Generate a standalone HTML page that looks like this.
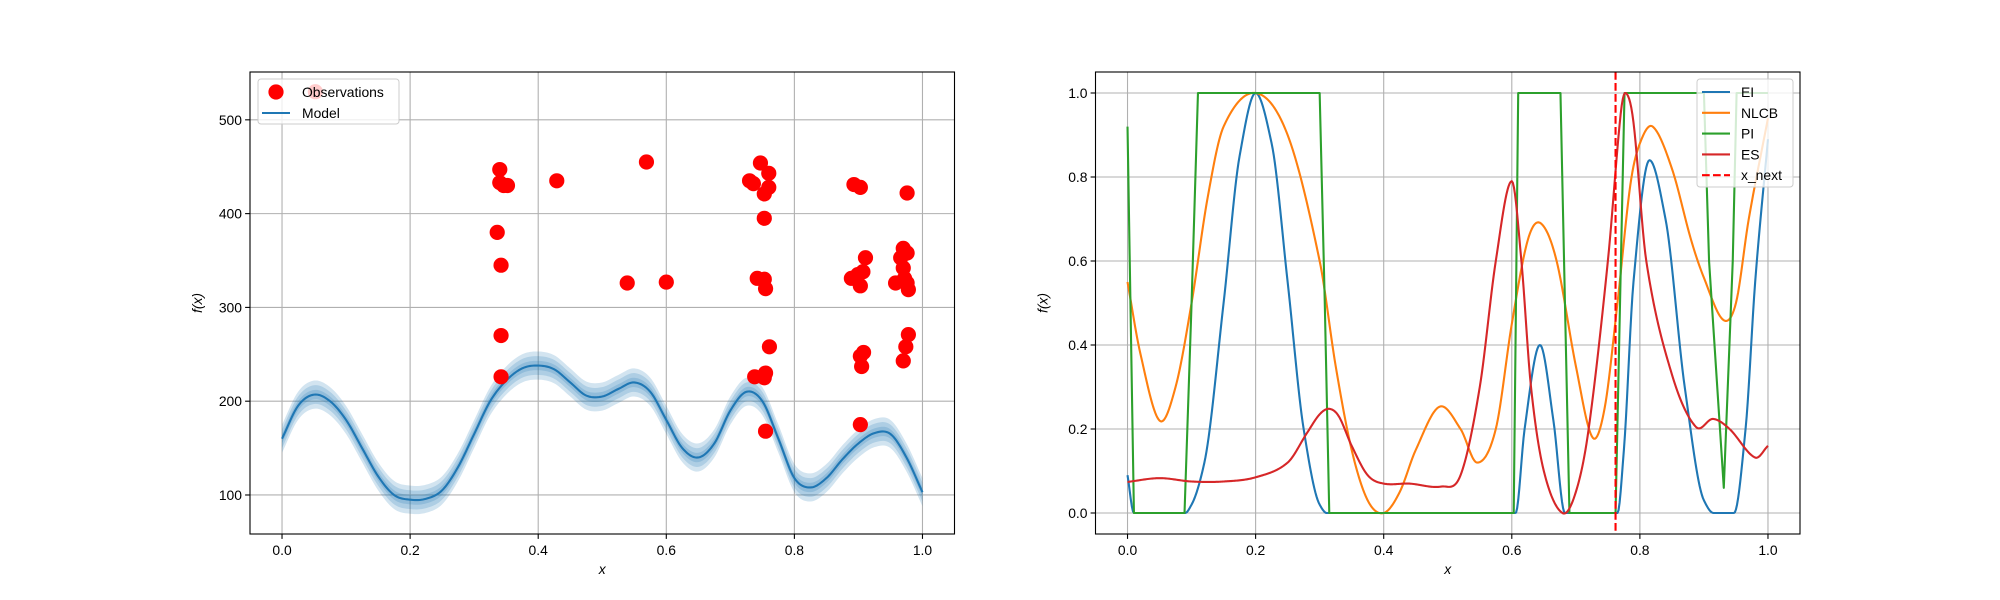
<!DOCTYPE html>
<html><head><meta charset="utf-8"><style>
body{margin:0;background:#fff}
svg{display:block;font-family:"Liberation Sans","DejaVu Sans",sans-serif}
</style></head><body>
<svg id="fig" width="2000" height="600" viewBox="0 0 2000 600" xmlns="http://www.w3.org/2000/svg">
<rect width="2000" height="600" fill="#fff"/>
<g id="left"></g>
<g id="right"></g>
</svg>
<script>
// ---- Left panel data ----
const meanX = [0,0.025,0.05,0.075,0.1,0.125,0.15,0.175,0.2,0.225,0.25,0.275,0.3,0.325,0.35,0.375,0.4,0.425,0.45,0.475,0.5,0.525,0.55,0.575,0.6,0.625,0.65,0.675,0.7,0.725,0.75,0.775,0.8,0.825,0.85,0.875,0.9,0.925,0.95,0.975,1.0];
const meanY = [160,195,207,200,180,150,120,100,95,96,105,130,165,200,222,235,238,234,220,206,205,213,220,210,180,150,140,155,190,210,200,160,118,108,118,138,155,166,165,140,103];
const bandHalfWidths = [15,10,5];
const obsX = [0.052,0.34,0.34,0.346,0.352,0.336,0.342,0.342,0.342,0.429,0.569,0.539,0.600,0.73,0.736,0.747,0.76,0.76,0.753,0.753,0.742,0.753,0.755,0.761,0.755,0.753,0.738,0.755,0.893,0.903,0.976,0.889,0.899,0.907,0.911,0.903,0.903,0.908,0.905,0.903,0.97,0.976,0.966,0.97,0.972,0.976,0.958,0.978,0.978,0.974,0.97];
const obsY = [530,447,433,430,430,380,345,270,226,435,455,326,327,435,432,454,443,428,421,395,331,330,320,258,230,225,226,168,431,428,422,331,335,338,353,323,248,252,237,175,363,358,353,342,331,326,326,319,271,258,243];
const leftXTicks = [0,0.2,0.4,0.6,0.8,1.0];
const leftXTickLabels = ["0.0","0.2","0.4","0.6","0.8","1.0"];
const leftYTicks = [100,200,300,400,500];
const leftYTickLabels = ["100","200","300","400","500"];

// ---- Right panel data ----
const eiX = [0,0.01,0.09,0.1,0.12,0.15,0.175,0.2,0.225,0.25,0.275,0.3,0.311,0.606,0.62,0.644,0.665,0.683,0.765,0.775,0.79,0.815,0.84,0.87,0.9,0.915,0.947,0.965,0.98,1.0];
const eiY = [0.09,0.0,0.0,0.02,0.12,0.5,0.85,1.0,0.88,0.55,0.2,0.02,0.0,0.0,0.2,0.40,0.22,0.0,0.0,0.15,0.55,0.84,0.7,0.3,0.03,0.0,0.0,0.2,0.55,0.89];
const nlcbX = [0,0.02,0.05,0.075,0.1,0.125,0.15,0.2,0.25,0.3,0.325,0.35,0.375,0.4,0.425,0.45,0.487,0.52,0.546,0.575,0.6,0.625,0.645,0.67,0.7,0.726,0.745,0.765,0.785,0.8,0.82,0.85,0.88,0.9,0.93,0.95,0.97,1.0];
const nlcbY = [0.55,0.38,0.22,0.3,0.5,0.75,0.92,1.0,0.9,0.6,0.35,0.15,0.03,0.0,0.05,0.15,0.253,0.2,0.12,0.2,0.45,0.65,0.69,0.6,0.35,0.18,0.25,0.5,0.78,0.88,0.92,0.82,0.65,0.56,0.46,0.5,0.7,0.94];
const piX = [0,0.01,0.089,0.1,0.11,0.3,0.308,0.315,0.603,0.61,0.676,0.683,0.69,0.762,0.769,0.776,0.9,0.908,0.931,0.945,0.951,1.0];
const piY = [0.92,0.0,0.0,0.5,1.0,1.0,0.5,0.0,0.0,1.0,1.0,0.5,0.0,0.0,0.5,1.0,1.0,0.6,0.06,0.6,1.0,1.0];
const esX = [0,0.05,0.1,0.15,0.2,0.25,0.28,0.3,0.315,0.33,0.35,0.375,0.4,0.44,0.49,0.52,0.55,0.575,0.6,0.615,0.63,0.65,0.679,0.7,0.72,0.75,0.77,0.778,0.79,0.81,0.85,0.8875,0.914,0.94,0.98,1.0];
const esY = [0.074,0.083,0.075,0.075,0.085,0.12,0.19,0.235,0.248,0.23,0.16,0.09,0.07,0.07,0.063,0.09,0.3,0.6,0.79,0.6,0.3,0.1,0.0,0.05,0.2,0.6,0.95,1.0,0.93,0.6,0.33,0.205,0.224,0.2,0.132,0.16];
const xNext = [0.762];
const rightXTicks = [0,0.2,0.4,0.6,0.8,1.0];
const rightXTickLabels = ["0.0","0.2","0.4","0.6","0.8","1.0"];
const rightYTicks = [0,0.2,0.4,0.6,0.8,1.0];
const rightYTickLabels = ["0.0","0.2","0.4","0.6","0.8","1.0"];

const NS = "http://www.w3.org/2000/svg";
function mk(parent, tag, attrs){const e=document.createElementNS(NS,tag);for(const k in attrs)e.setAttribute(k,attrs[k]);parent.appendChild(e);return e;}

function hermite(xs, ys, m){
  const n=xs.length;
  return function(x){
    let i=0; while(i<n-2 && x>xs[i+1]) i++;
    const h=xs[i+1]-xs[i], t=(x-xs[i])/h, t2=t*t, t3=t2*t;
    return (2*t3-3*t2+1)*ys[i]+(t3-2*t2+t)*h*m[i]+(-2*t3+3*t2)*ys[i+1]+(t3-t2)*h*m[i+1];
  };
}
function monotone(xs, ys){
  const n=xs.length, d=[], m=new Array(n);
  for(let i=0;i<n-1;i++) d.push((ys[i+1]-ys[i])/(xs[i+1]-xs[i]));
  m[0]=d[0]; m[n-1]=d[n-2];
  for(let i=1;i<n-1;i++){ if(d[i-1]*d[i]<=0) m[i]=0; else { const w1=2*(xs[i+1]-xs[i])+(xs[i]-xs[i-1]), w2=(xs[i+1]-xs[i])+2*(xs[i]-xs[i-1]); m[i]=(w1+w2)/(w1/d[i-1]+w2/d[i]); } }
  return hermite(xs,ys,m);
}
function catmull(xs, ys){
  const n=xs.length, m=new Array(n);
  m[0]=(ys[1]-ys[0])/(xs[1]-xs[0]); m[n-1]=(ys[n-1]-ys[n-2])/(xs[n-1]-xs[n-2]);
  for(let i=1;i<n-1;i++) m[i]=(ys[i+1]-ys[i-1])/(xs[i+1]-xs[i-1]);
  return hermite(xs,ys,m);
}
function sample(xs, ys, N, smooth){const f=smooth?catmull(xs,ys):monotone(xs,ys);const out=[];for(let k=0;k<=N;k++){const x=xs[0]+(xs[xs.length-1]-xs[0])*k/N;out.push([x,f(x)]);}return out;}

function axes(L, T, W, H, xmin, xmax, ymin, ymax){
  const sx=v=>L+(v-xmin)/(xmax-xmin)*W, sy=v=>T+H-(v-ymin)/(ymax-ymin)*H;
  return {sx,sy};
}
function drawFrame(g, L,T,W,H, sx, sy, xt, xtl, yt, ytl, prefix){
  const grid=mk(g,'g',{});
  
  
  xt.forEach((v,i)=>{
    const x=sx(v);
    mk(grid,'line',{x1:x,y1:T,x2:x,y2:T+H,stroke:'#b0b0b0','stroke-width':1.1});
    mk(g,'line',{x1:x,y1:T+H,x2:x,y2:T+H+4.9,stroke:'#000','stroke-width':1.1});
    const t=mk(g,'text',{x:x,y:T+H+21,'text-anchor':'middle','font-size':13.9,fill:'#000'});
    
    
    t.textContent=xtl[i];
  });
  yt.forEach((v,i)=>{
    const y=sy(v);
    mk(grid,'line',{x1:L,y1:y,x2:L+W,y2:y,stroke:'#b0b0b0','stroke-width':1.1});
    mk(g,'line',{x1:L-4.9,y1:y,x2:L,y2:y,stroke:'#000','stroke-width':1.1});
    const t=mk(g,'text',{x:L-8,y:y+5,'text-anchor':'end','font-size':13.9,fill:'#000'});
    
    
    t.textContent=ytl[i];
  });
}
function spines(g,L,T,W,H){mk(g,'rect',{x:L,y:T,width:W,height:H,fill:'none',stroke:'#000','stroke-width':1.1});}
function labels(g,L,T,W,H,prefix){
  const xl=mk(g,'text',{x:L+W/2,y:T+H+40,'text-anchor':'middle','font-size':13.9,'font-style':'italic',fill:'#000'});
  
  
  xl.textContent='x';
  const yx=L-48, yy=T+H/2;
  const yl=mk(g,'text',{x:yx,y:yy,'text-anchor':'middle','font-size':13.9,'font-style':'italic',fill:'#000',transform:`rotate(-90 ${yx} ${yy})`});
  
  
  yl.textContent='f(x)';
}

// ---- Left panel ----
(function(){
  const g=document.getElementById('left');
  const L=250,T=72,W=704.5,H=462;
  const {sx,sy}=axes(L,T,W,H,-0.05,1.05,58.4,551);
  drawFrame(g,L,T,W,H,sx,sy,leftXTicks,leftXTickLabels,leftYTicks,leftYTickLabels,'left');
  const pts=sample(meanX,meanY,400,true);
  bandHalfWidths.forEach((w,bi)=>{
    let d='M'+pts.map(p=>sx(p[0]).toFixed(2)+','+sy(p[1]+w).toFixed(2)).join('L');
    d+='L'+pts.slice().reverse().map(p=>sx(p[0]).toFixed(2)+','+sy(p[1]-w).toFixed(2)).join('L')+'Z';
    const b=mk(g,'path',{d:d,fill:'#1f77b4','fill-opacity':0.2,stroke:'none'});
    
    
  });
  const line=mk(g,'path',{d:'M'+pts.map(p=>sx(p[0]).toFixed(2)+','+sy(p[1]).toFixed(2)).join('L'),fill:'none',stroke:'#1f77b4','stroke-width':2.1});
  
  
  obsX.forEach((x,i)=>{
    const c=mk(g,'circle',{cx:sx(x),cy:sy(obsY[i]),r:7.6,fill:'#ff0000'});
    
    
  });
  spines(g,L,T,W,H);
  labels(g,L,T,W,H,'left');
  const lg=mk(g,'g',{});
  
  
  mk(lg,'rect',{x:258,y:79,width:141,height:45,rx:3,fill:'#fff','fill-opacity':0.8,stroke:'#cccccc','stroke-width':1});
  mk(lg,'circle',{cx:276,cy:92,r:7.6,fill:'#ff0000'});
  const t1=mk(lg,'text',{x:302,y:97,'font-size':13.9,fill:'#000'});t1.textContent='Observations';
  mk(lg,'line',{x1:262,y1:113,x2:290,y2:113,stroke:'#1f77b4','stroke-width':2.1});
  const t2=mk(lg,'text',{x:302,y:118,'font-size':13.9,fill:'#000'});t2.textContent='Model';
})();

// ---- Right panel ----
(function(){
  const g=document.getElementById('right');
  const L=1095.5,T=72,W=704.5,H=462;
  const {sx,sy}=axes(L,T,W,H,-0.05,1.05,-0.05,1.05);
  drawFrame(g,L,T,W,H,sx,sy,rightXTicks,rightXTickLabels,rightYTicks,rightYTickLabels,'right');
  const series=[['ei-line',eiX,eiY,'#1f77b4','mono'],['nlcb-line',nlcbX,nlcbY,'#ff7f0e','smooth'],['pi-line',piX,piY,'#2ca02c','linear'],['es-line',esX,esY,'#d62728','smooth']];
  series.forEach(s=>{
    const pts=s[4]==='linear'?s[1].map((x,i)=>[x,s[2][i]]):sample(s[1],s[2],600,s[4]==='smooth');
    const p=mk(g,'path',{d:'M'+pts.map(q=>sx(q[0]).toFixed(2)+','+sy(q[1]).toFixed(2)).join('L'),fill:'none',stroke:s[3],'stroke-width':2.1,'stroke-linejoin':'round'});
    
    
  });
  const xn=mk(g,'line',{x1:sx(xNext[0]),y1:T,x2:sx(xNext[0]),y2:T+H,stroke:'#ff0000','stroke-width':2.1,'stroke-dasharray':'7.7,3.3'});
  
  
  spines(g,L,T,W,H);
  labels(g,L,T,W,H,'right');
  const lg=mk(g,'g',{});
  
  
  mk(lg,'rect',{x:1697,y:79,width:96,height:108,rx:3,fill:'#fff','fill-opacity':0.8,stroke:'#cccccc','stroke-width':1});
  const ent=[['EI','#1f77b4',''],['NLCB','#ff7f0e',''],['PI','#2ca02c',''],['ES','#d62728',''],['x_next','#ff0000','7.7,3.3']];
  ent.forEach((e,i)=>{
    const y=92+i*20.8;
    const a={x1:1702,y1:y,x2:1730,y2:y,stroke:e[1],'stroke-width':2.1};
    if(e[2])a['stroke-dasharray']=e[2];
    mk(lg,'line',a);
    const t=mk(lg,'text',{x:1741,y:y+5,'font-size':13.9,fill:'#000'});t.textContent=e[0];
  });
})();
</script>
</body></html>
